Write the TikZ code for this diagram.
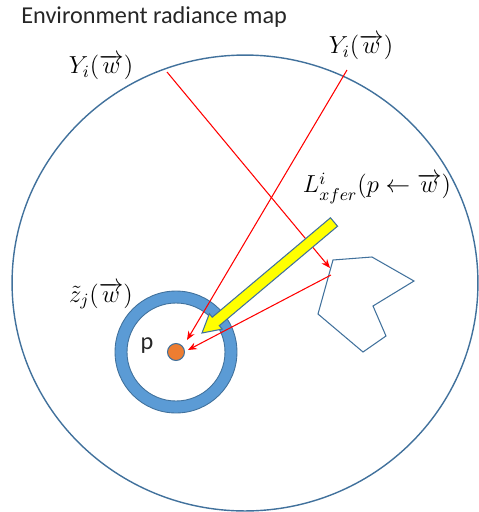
\documentclass[tikz,border=0pt]{standalone}
\usepackage{fix-cm}
\usepackage{amsmath}
\usepackage{fontspec}
\setmainfont{Carlito}
\usetikzlibrary{arrows.meta, calc}
\definecolor{BO}{RGB}{65,113,156}
\definecolor{BF}{RGB}{91,155,213}
\definecolor{OR}{RGB}{237,125,49}
\definecolor{YL}{RGB}{255,255,0}
\definecolor{DG}{RGB}{38,38,38}

\begin{document}
\begin{tikzpicture}[x=0.02cm, y=-0.02cm,
  ray/.style={draw=red, line width=0.6pt, -{Stealth[length=5pt,width=4pt]}},
  mlbl/.style={font=\fontsize{14}{16}\selectfont, inner sep=0pt},
  tlbl/.style={font=\fontsize{13.8}{16}\selectfont, text=DG, inner sep=0pt}
]
\useasboundingbox (0,0) rectangle (479,512);

% environment map
\coordinate (env) at (245,283);
\draw[BO, line width=0.8pt] (env) ellipse [x radius=4.66cm, y radius=4.56cm];
\node[tlbl, anchor=west] (title) at (21,17) {Environment radiance map};

% receiver ring and point p
\coordinate (rc) at (176,352);
\fill[BF, draw=BO, line width=0.5pt, even odd rule]
  (rc) circle[radius=1.22cm] (rc) circle[radius=0.98cm];
\node[circle, fill=OR, draw=BO, line width=0.6pt, minimum size=0.34cm,
      inner sep=0pt] (p) at (rc) {};
\node[tlbl] (plbl) at (147,346) {p};

% occluder
\draw[BO, line width=0.6pt] (333,260) -- (372,257) -- (414,281) -- (373,306)
  -- (386,336) -- (363,352) -- (318,314) -- cycle;

% rays
\coordinate (Y1) at (167,72);
\coordinate (Y2) at (347,70);
\coordinate (hit) at (330,268);
\coordinate (bounce) at (331,275);
\coordinate (pa) at (187,340);
\coordinate (pb) at (188,350);
\draw[ray] (Y1) -- (hit);
\draw[ray] (Y2) -- (pa);
\draw[ray] (bounce) -- (pb);

% transfer arrow
\coordinate (xtail) at (334,222);
\coordinate (xtip) at (202,333);
\coordinate (xhb) at ($(xtip)!0.36cm!(xtail)$);
\filldraw[fill=YL, draw=BO, line width=0.6pt, line join=miter]
  ($(xtail)!0.11cm!90:(xtip)$) -- ($(xhb)!0.11cm!90:(xtip)$)
  -- ($(xhb)!0.2cm!90:(xtip)$) -- (xtip) -- ($(xhb)!0.2cm!-90:(xtip)$)
  -- ($(xhb)!0.11cm!-90:(xtip)$) -- ($(xtail)!0.11cm!-90:(xtip)$) -- cycle;

% labels
\node[mlbl] (Yl) at (101,67) {$Y_i(\overrightarrow{w})$};
\node[mlbl] (Yr) at (361,47) {$Y_i(\overrightarrow{w})$};
\node[mlbl] (Lx) at (377,188) {$L^{i}_{xfer}(p\leftarrow\overrightarrow{w})$};
\node[mlbl] (zj) at (101,296) {$\tilde{z}_j(\overrightarrow{w})$};
\end{tikzpicture}
\end{document}
